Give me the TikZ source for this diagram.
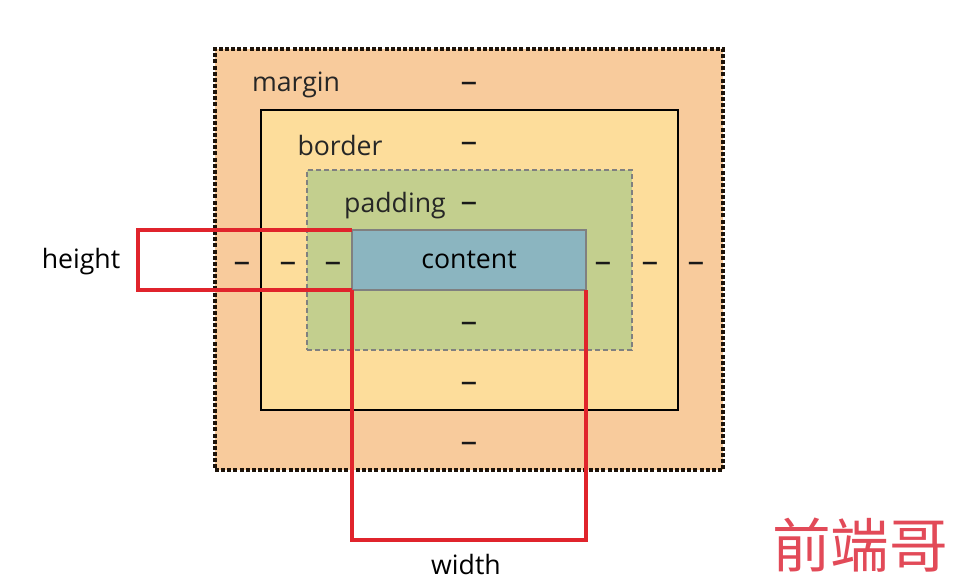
\documentclass[tikz,border=0pt]{standalone}
\usepackage{fontspec}
\setmainfont{Open Sans}
\newfontfamily\cjkfont{Noto Sans CJK SC}
\usetikzlibrary{positioning}
\definecolor{marginfill}{HTML}{F8CB9C}
\definecolor{borderfill}{HTML}{FDDD9B}
\definecolor{paddingfill}{HTML}{C3CF8E}
\definecolor{contentfill}{HTML}{8BB5C0}
\definecolor{measurered}{HTML}{E0242C}
\definecolor{markred}{HTML}{E24A58}

\begin{document}
\begin{tikzpicture}[x=0.75pt,y=-0.75pt,every node/.style={font=\fontsize{20}{24}\selectfont},
  layerbox/.style={inner sep=0pt,outer sep=0pt},
  gap/.style={inner sep=0pt,text=black!85},
  bar/.style={inner sep=0pt,text=black!90,font=\fontsize{25}{28}\selectfont},
  measure/.style={draw=measurered,line width=2.4pt}]
\useasboundingbox (0,0) rectangle (960,583);
% nested boxes, outer to inner
\node[layerbox,fill=marginfill,draw=black!85!brown,line width=2.4pt,dash pattern=on 3pt off 1.6pt,
  minimum width=381pt,minimum height=315.75pt] (margin) at (469,259.5) {};
\node[layerbox,fill=borderfill,draw=black,line width=2.2pt,
  minimum width=312.75pt,minimum height=225pt] (border) at (469.5,260) {};
\node[layerbox,fill=paddingfill,draw=black!50,line width=2.2pt,dash pattern=on 4pt off 2pt,
  minimum width=243.75pt,minimum height=135pt] (padding) at (469.5,260) {};
\node[layerbox,fill=contentfill,draw=black!50,line width=2.2pt,
  minimum width=175.5pt,minimum height=45pt] (content) at (469,260) {content};
% labels and gaps
\node[gap] (marginlbl) at (296,85) {margin};
\node[gap] (bordertxt) at (340,145) {border};
\node[gap] (paddinglbl) at (395,206) {padding};
\node[bar] (mtop) at (469,87) {–};
\node[bar] (btop) at (469,147) {–};
\node[bar] (ptop) at (469,207) {–};
\node[bar] (mleft) at (242,267) {–};
\node[bar] (bleft) at (288,267) {–};
\node[bar] (pleft) at (333,267) {–};
\node[bar] (pright) at (603,267) {–};
\node[bar] (bright) at (650,267) {–};
\node[bar] (mright) at (696,267) {–};
\node[bar] (pbot) at (469,327) {–};
\node[bar] (bbot) at (469,387) {–};
\node[bar] (mbot) at (469,447) {–};
% height and width
\coordinate (hleft) at (138,260);
\coordinate (wbottom) at (469,540);
\draw[measure] (content.north west) -| (hleft) |- (content.south west);
\draw[measure] (content.south west) |- (wbottom) -| (content.south east);
\node[gap,text=black] (heightlbl) at (81,262) {height};
\node[gap,text=black] (widthlbl) at (466,564) {width};
\node[inner sep=0pt,text=markred,font=\cjkfont\fontsize{44}{48}\selectfont] (mark) at (860,545) {前端哥};
\end{tikzpicture}
\end{document}
